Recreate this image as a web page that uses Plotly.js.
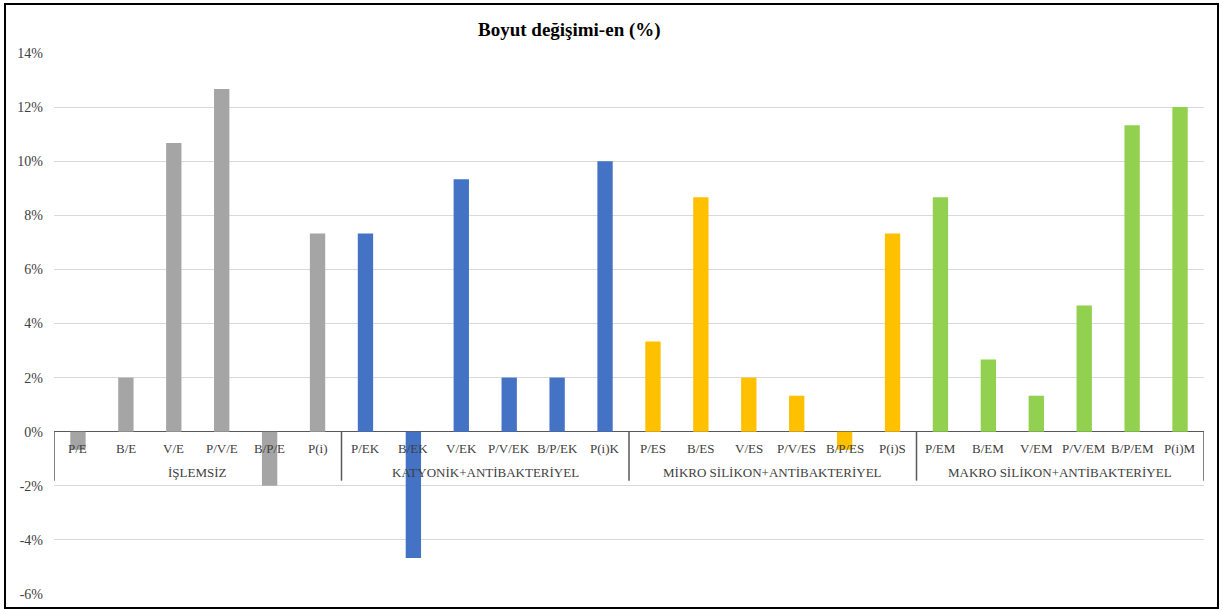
<!DOCTYPE html>
<html>
<head>
<meta charset="utf-8">
<script src="https://cdn.plot.ly/plotly-3.0.1.min.js"></script>
<style>html,body{margin:0;padding:0;background:#fff;}#chart{width:1223px;height:610px;}</style>
</head>
<body>
<div id="chart"></div>
<script>
const groups = ["İŞLEMSİZ", "KATYONİK+ANTİBAKTERİYEL", "MİKRO SİLİKON+ANTİBAKTERİYEL", "MAKRO SİLİKON+ANTİBAKTERİYEL"];
const groupColors = ["#A5A5A5", "#4472C4", "#FFC000", "#92D050"];
const labelsIslemsiz = ["P/E", "B/E", "V/E", "P/V/E", "B/P/E", "P(i)"];
const labelsKatyonik = ["P/EK", "B/EK", "V/EK", "P/V/EK", "B/P/EK", "P(i)K"];
const labelsMikro = ["P/ES", "B/ES", "V/ES", "P/V/ES", "B/P/ES", "P(i)S"];
const labelsMakro = ["P/EM", "B/EM", "V/EM", "P/V/EM", "B/P/EM", "P(i)M"];
const valuesIslemsiz = [-0.67, 2.0, 10.67, 12.67, -2.0, 7.33];
const valuesKatyonik = [7.33, -4.67, 9.33, 2.0, 2.0, 10.0];
const valuesMikro = [3.33, 8.67, 2.0, 1.33, -0.67, 7.33];
const valuesMakro = [8.67, 2.67, 1.33, 4.67, 11.33, 12.0];
const yTicks = [-6, -4, -2, 0, 2, 4, 6, 8, 10, 12, 14];

const allLabels = [labelsIslemsiz, labelsKatyonik, labelsMikro, labelsMakro];
const allValues = [valuesIslemsiz, valuesKatyonik, valuesMikro, valuesMakro];

const traces = allLabels.map((labs, g) => ({
  type: "bar",
  x: labs,
  y: allValues[g],
  width: 0.32,
  marker: {color: groupColors[g], line: {width: 0}},
  hoverinfo: "x+y",
  showlegend: false
}));

const allCats = [].concat(...allLabels);
const fam = "'Liberation Serif', 'Times New Roman', serif";
const font = {family: fam, color: "#404040"};

const annotations = [];
allCats.forEach(c => annotations.push({
  x: c, y: 0, xref: "x", yref: "y", text: c, showarrow: false,
  yanchor: "middle", yshift: -17, font: Object.assign({size: 13}, font)
}));
groups.forEach((g, i) => {
  const n = allLabels[i].length;
  const start = allLabels.slice(0, i).reduce((s, a) => s + a.length, 0);
  annotations.push({
    x: start + (n - 1) / 2, y: 0, xref: "x", yref: "y", text: g, showarrow: false,
    yanchor: "middle", yshift: -41, font: Object.assign({size: 13}, font)
  });
});
annotations.push({
  x: (569 - 54) / 1150, y: 1.0, xref: "paper", yref: "paper", yanchor: "middle", yshift: 23,
  text: "<b>Boyut değişimi-en (%)</b>", showarrow: false,
  font: {family: fam, size: 19, color: "#000"}
});

const shapes = [];
let b = -0.5;
shapes.push({type: "line", xref: "x", yref: "y", x0: b, x1: b, y0: 0, y1: -1.81, line: {color: "#595959", width: 1.5}});
allLabels.forEach(a => {
  b += a.length;
  shapes.push({type: "line", xref: "x", yref: "y", x0: b, x1: b, y0: 0, y1: -1.81, line: {color: "#595959", width: 1.5}});
});
shapes.push({type: "rect", xref: "paper", yref: "paper",
  x0: (5 - 54) / 1150, x1: (1218 - 54) / 1150, y0: (594 - 608) / 541, y1: (594 - 4) / 541,
  line: {color: "#000", width: 2}, fillcolor: "rgba(0,0,0,0)"});

const layout = {
  width: 1223, height: 610,
  margin: {l: 54, r: 19, t: 53, b: 16},
  font: {family: fam, color: "#404040", size: 14},
  paper_bgcolor: "#fff", plot_bgcolor: "#fff",
  xaxis: {type: "category", categoryorder: "array", categoryarray: allCats,
    range: [-0.5, allCats.length - 0.5], showticklabels: false, showgrid: false,
    zeroline: false, showline: false, fixedrange: true},
  yaxis: {range: [yTicks[0], yTicks[yTicks.length - 1]], tickvals: yTicks,
    ticktext: yTicks.map(v => v + "%"), showgrid: true, gridcolor: "#D9D9D9", gridwidth: 1,
    zeroline: true, zerolinecolor: "#595959", zerolinewidth: 1.5, showline: false,
    ticks: "", ticklabelstandoff: 10, tickfont: Object.assign({size: 14}, font), fixedrange: true},
  annotations: annotations,
  shapes: shapes,
  showlegend: false
};
Plotly.newPlot("chart", traces, layout, {displayModeBar: false, staticPlot: true});
</script>
</body>
</html>
